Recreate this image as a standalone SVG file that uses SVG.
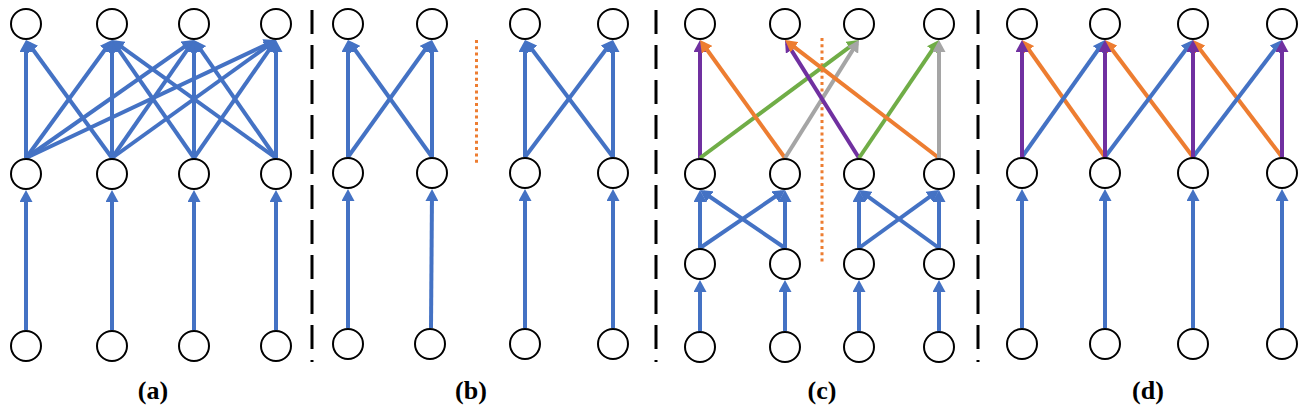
<svg xmlns="http://www.w3.org/2000/svg" width="1304" height="407" viewBox="0 0 1304 407">
<defs>
<style>
.n{fill:#fff;stroke:#000;stroke-width:2}
.e{fill:none;stroke-width:4}
.b{stroke:#4472C4;marker-end:url(#mb)}
.o{stroke:#ED7D31;marker-end:url(#mo)}
.g{stroke:#70AD47;marker-end:url(#mg)}
.y{stroke:#A5A5A5;marker-end:url(#my)}
.p{stroke:#7030A0;marker-end:url(#mp)}
.sep{stroke:#000;stroke-width:3;stroke-dasharray:24 11;fill:none}
.dot{stroke:#ED7D31;stroke-width:3;stroke-dasharray:3 3.3;fill:none}
.lbl{font-family:"Liberation Serif","Times New Roman",serif;font-weight:bold;font-size:26px;text-anchor:middle;fill:#000}
</style>
<marker id="mb" markerUnits="userSpaceOnUse" markerWidth="12" markerHeight="13" refX="8" refY="6.5" orient="auto"><path d="M0,0L12,6.5L0,13z" fill="#4472C4"/></marker>
<marker id="mo" markerUnits="userSpaceOnUse" markerWidth="12" markerHeight="13" refX="8" refY="6.5" orient="auto"><path d="M0,0L12,6.5L0,13z" fill="#ED7D31"/></marker>
<marker id="mg" markerUnits="userSpaceOnUse" markerWidth="12" markerHeight="13" refX="8" refY="6.5" orient="auto"><path d="M0,0L12,6.5L0,13z" fill="#70AD47"/></marker>
<marker id="my" markerUnits="userSpaceOnUse" markerWidth="12" markerHeight="13" refX="8" refY="6.5" orient="auto"><path d="M0,0L12,6.5L0,13z" fill="#A5A5A5"/></marker>
<marker id="mp" markerUnits="userSpaceOnUse" markerWidth="12" markerHeight="13" refX="8" refY="6.5" orient="auto"><path d="M0,0L12,6.5L0,13z" fill="#7030A0"/></marker>
</defs>
<rect width="1304" height="407" fill="#fff"/>

<g id="separators">
<line class="sep" x1="312" y1="10" x2="312" y2="362"/>
<line class="sep" x1="656" y1="10" x2="656" y2="362"/>
<line class="sep" x1="978" y1="10" x2="978" y2="362"/>
<line class="dot" x1="476.5" y1="40" x2="476.5" y2="163"/>
<line class="dot" x1="822" y1="38" x2="822" y2="264"/>
</g>

<g id="connectors">
<!-- panel a -->
<line class="e b" x1="26" y1="158" x2="26" y2="44"/>
<line class="e b" x1="26" y1="158" x2="109.64" y2="43.23"/>
<line class="e b" x1="26" y1="158" x2="190.73" y2="42.3"/>
<line class="e b" x1="26" y1="158" x2="272.38" y2="41.71"/>
<line class="e b" x1="112" y1="158" x2="28.36" y2="43.23"/>
<line class="e b" x1="112" y1="158" x2="112" y2="44"/>
<line class="e b" x1="112" y1="158" x2="191.72" y2="43.28"/>
<line class="e b" x1="112" y1="158" x2="272.75" y2="42.34"/>
<line class="e b" x1="194" y1="158" x2="114.28" y2="43.28"/>
<line class="e b" x1="194" y1="158" x2="194" y2="44"/>
<line class="e b" x1="194" y1="158" x2="273.72" y2="43.28"/>
<line class="e b" x1="276" y1="158" x2="115.25" y2="42.34"/>
<line class="e b" x1="276" y1="158" x2="196.28" y2="43.28"/>
<line class="e b" x1="276" y1="158" x2="276" y2="44"/>
<line class="e b" x1="26" y1="330" x2="26" y2="194"/>
<line class="e b" x1="112" y1="330" x2="112" y2="194"/>
<line class="e b" x1="194" y1="330" x2="194" y2="194"/>
<line class="e b" x1="276" y1="330" x2="276" y2="194"/>
<!-- panel b -->
<line class="e b" x1="348" y1="157" x2="348" y2="44"/>
<line class="e b" x1="348" y1="157" x2="429.67" y2="43.25"/>
<line class="e b" x1="432" y1="157" x2="350.33" y2="43.25"/>
<line class="e b" x1="432" y1="157" x2="432" y2="44"/>
<line class="e b" x1="525" y1="157" x2="525" y2="44"/>
<line class="e b" x1="525" y1="157" x2="610.6" y2="43.2"/>
<line class="e b" x1="613" y1="157" x2="527.4" y2="43.2"/>
<line class="e b" x1="613" y1="157" x2="613" y2="44"/>
<line class="e b" x1="348" y1="328" x2="348" y2="193"/>
<line class="e b" x1="431" y1="328" x2="432" y2="193"/>
<line class="e b" x1="525" y1="328" x2="525" y2="193"/>
<line class="e b" x1="613" y1="328" x2="613" y2="193"/>
<!-- panel c -->
<line class="e p" x1="700" y1="158" x2="700" y2="44"/>
<line class="e g" x1="700" y1="158" x2="855.79" y2="42.38"/>
<line class="e o" x1="785" y1="158" x2="702.34" y2="43.25"/>
<line class="e y" x1="785" y1="158" x2="856.88" y2="43.39"/>
<line class="e p" x1="859" y1="158" x2="787.12" y2="43.39"/>
<line class="e g" x1="859" y1="158" x2="936.76" y2="43.31"/>
<line class="e o" x1="939" y1="158" x2="788.18" y2="42.43"/>
<line class="e y" x1="939" y1="158" x2="939" y2="44"/>
<line class="e b" x1="700" y1="248" x2="700" y2="194"/>
<line class="e b" x1="700" y1="248" x2="781.7" y2="192.25"/>
<line class="e b" x1="785" y1="248" x2="703.3" y2="192.25"/>
<line class="e b" x1="785" y1="248" x2="785" y2="194"/>
<line class="e b" x1="859" y1="248" x2="859" y2="194"/>
<line class="e b" x1="859" y1="248" x2="935.76" y2="192.35"/>
<line class="e b" x1="939" y1="248" x2="862.24" y2="192.35"/>
<line class="e b" x1="939" y1="248" x2="939" y2="194"/>
<line class="e b" x1="700" y1="331" x2="700" y2="284"/>
<line class="e b" x1="785" y1="331" x2="785" y2="284"/>
<line class="e b" x1="859" y1="331" x2="859" y2="284"/>
<line class="e b" x1="939" y1="331" x2="939" y2="284"/>
<!-- panel d -->
<line class="e o" x1="1105" y1="157" x2="1024.31" y2="43.26"/>
<line class="e o" x1="1193" y1="157" x2="1107.4" y2="43.2"/>
<line class="e o" x1="1282" y1="157" x2="1195.42" y2="43.18"/>
<line class="e b" x1="1022" y1="157" x2="1102.69" y2="43.26"/>
<line class="e b" x1="1105" y1="157" x2="1190.6" y2="43.2"/>
<line class="e b" x1="1193" y1="157" x2="1279.58" y2="43.18"/>
<line class="e p" x1="1022" y1="157" x2="1022" y2="44"/>
<line class="e p" x1="1105" y1="157" x2="1105" y2="44"/>
<line class="e p" x1="1193" y1="157" x2="1193" y2="44"/>
<line class="e p" x1="1282" y1="157" x2="1282" y2="44"/>
<line class="e b" x1="1022" y1="328" x2="1022" y2="193"/>
<line class="e b" x1="1105" y1="328" x2="1105" y2="193"/>
<line class="e b" x1="1193" y1="328" x2="1193" y2="193"/>
<line class="e b" x1="1282" y1="328" x2="1282" y2="193"/>
</g>

<g id="panel-a">
<g id="a-top1"><circle class="n" cx="26" cy="24" r="15"/></g>
<g id="a-top2"><circle class="n" cx="112" cy="24" r="15"/></g>
<g id="a-top3"><circle class="n" cx="194" cy="24" r="15"/></g>
<g id="a-top4"><circle class="n" cx="276" cy="24" r="15"/></g>
<g id="a-mid1"><circle class="n" cx="26" cy="174" r="15"/></g>
<g id="a-mid2"><circle class="n" cx="112" cy="174" r="15"/></g>
<g id="a-mid3"><circle class="n" cx="194" cy="174" r="15"/></g>
<g id="a-mid4"><circle class="n" cx="276" cy="174" r="15"/></g>
<g id="a-bot1"><circle class="n" cx="26" cy="346" r="15"/></g>
<g id="a-bot2"><circle class="n" cx="112" cy="346" r="15"/></g>
<g id="a-bot3"><circle class="n" cx="194" cy="346" r="15"/></g>
<g id="a-bot4"><circle class="n" cx="276" cy="346" r="15"/></g>
<text class="lbl" x="153" y="399">(a)</text>
</g>

<g id="panel-b">
<g id="b-top1"><circle class="n" cx="348" cy="24" r="15"/></g>
<g id="b-top2"><circle class="n" cx="432" cy="24" r="15"/></g>
<g id="b-top3"><circle class="n" cx="525" cy="24" r="15"/></g>
<g id="b-top4"><circle class="n" cx="613" cy="24" r="15"/></g>
<g id="b-mid1"><circle class="n" cx="348" cy="173" r="15"/></g>
<g id="b-mid2"><circle class="n" cx="432" cy="173" r="15"/></g>
<g id="b-mid3"><circle class="n" cx="525" cy="173" r="15"/></g>
<g id="b-mid4"><circle class="n" cx="613" cy="173" r="15"/></g>
<g id="b-bot1"><circle class="n" cx="348" cy="344" r="15"/></g>
<g id="b-bot2"><circle class="n" cx="430" cy="344" r="15"/></g>
<g id="b-bot3"><circle class="n" cx="525" cy="344" r="15"/></g>
<g id="b-bot4"><circle class="n" cx="613" cy="344" r="15"/></g>
<text class="lbl" x="471" y="399">(b)</text>
</g>

<g id="panel-c">
<g id="c-top1"><circle class="n" cx="700" cy="24" r="15"/></g>
<g id="c-top2"><circle class="n" cx="785" cy="24" r="15"/></g>
<g id="c-top3"><circle class="n" cx="859" cy="24" r="15"/></g>
<g id="c-top4"><circle class="n" cx="939" cy="24" r="15"/></g>
<g id="c-r2n1"><circle class="n" cx="700" cy="174" r="15"/></g>
<g id="c-r2n2"><circle class="n" cx="785" cy="174" r="15"/></g>
<g id="c-r2n3"><circle class="n" cx="859" cy="174" r="15"/></g>
<g id="c-r2n4"><circle class="n" cx="939" cy="174" r="15"/></g>
<g id="c-r3n1"><circle class="n" cx="700" cy="264" r="15"/></g>
<g id="c-r3n2"><circle class="n" cx="785" cy="264" r="15"/></g>
<g id="c-r3n3"><circle class="n" cx="859" cy="264" r="15"/></g>
<g id="c-r3n4"><circle class="n" cx="939" cy="264" r="15"/></g>
<g id="c-bot1"><circle class="n" cx="700" cy="347" r="15"/></g>
<g id="c-bot2"><circle class="n" cx="785" cy="347" r="15"/></g>
<g id="c-bot3"><circle class="n" cx="859" cy="347" r="15"/></g>
<g id="c-bot4"><circle class="n" cx="939" cy="347" r="15"/></g>
<text class="lbl" x="822" y="399">(c)</text>
</g>

<g id="panel-d">
<g id="d-top1"><circle class="n" cx="1022" cy="24" r="15"/></g>
<g id="d-top2"><circle class="n" cx="1105" cy="24" r="15"/></g>
<g id="d-top3"><circle class="n" cx="1193" cy="24" r="15"/></g>
<g id="d-top4"><circle class="n" cx="1282" cy="24" r="15"/></g>
<g id="d-mid1"><circle class="n" cx="1022" cy="173" r="15"/></g>
<g id="d-mid2"><circle class="n" cx="1105" cy="173" r="15"/></g>
<g id="d-mid3"><circle class="n" cx="1193" cy="173" r="15"/></g>
<g id="d-mid4"><circle class="n" cx="1282" cy="173" r="15"/></g>
<g id="d-bot1"><circle class="n" cx="1022" cy="344" r="15"/></g>
<g id="d-bot2"><circle class="n" cx="1105" cy="344" r="15"/></g>
<g id="d-bot3"><circle class="n" cx="1193" cy="344" r="15"/></g>
<g id="d-bot4"><circle class="n" cx="1282" cy="344" r="15"/></g>
<text class="lbl" x="1148" y="399">(d)</text>
</g>
</svg>
